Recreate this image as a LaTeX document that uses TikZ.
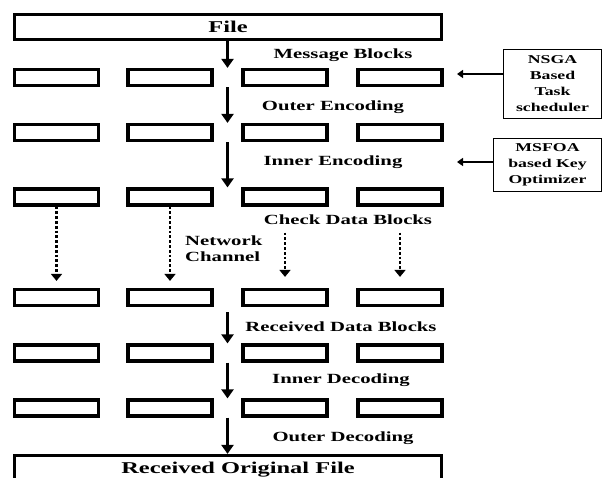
\documentclass[tikz,border=0pt]{standalone}
\usepackage{fontspec}
\setmainfont{Liberation Serif}[FakeStretch=1.48]
\usetikzlibrary{arrows.meta,calc}
\begin{document}
\begin{tikzpicture}[x=1pt,y=-1pt,
  blk/.style={draw,line width=3.2pt,minimum width=84pt,minimum height=16pt,inner sep=0pt},
  big/.style={draw,line width=3.2pt,minimum width=427pt,minimum height=25pt,inner sep=0pt,font=\bfseries\fontsize{16.5}{18}\selectfont},
  lbl/.style={font=\bfseries\fontsize{14}{16}\selectfont,inner sep=0pt},
  side/.style={draw,line width=1.8pt,align=center,inner sep=2pt,font=\bfseries\fontsize{12}{16}\selectfont},
  arr/.style={line width=2.7pt,-{Triangle[width=12pt,length=9pt]}},
  sarr/.style={line width=2pt,-{Triangle[width=8pt,length=6pt]}},
  darr/.style={line width=2.8pt,dash pattern=on 2.8pt off 2pt,-{Triangle[width=11pt,length=7pt]}}]
\useasboundingbox (0,0) rectangle (604,478);
\clip (0,0) rectangle (604,478);

\node[big] (file) at (228,27) {File};
\node[big,minimum height=30pt] (recv) at (228,470.5) {};
\node[font=\bfseries\fontsize{16.5}{18}\selectfont,inner sep=0pt] (recvt) at (238,470) {Received Original File};

\foreach \r/\y in {1/77.5,2/132.5,3/197,4/297.5,5/353,6/408}{
  \foreach \c/\x in {1/56.5,2/170,3/285,4/400}{
    \node[blk] (r\r c\c) at (\x,\y) {};
  }
  \coordinate (gt\r) at ($(r\r c2.north east)!.5!(r\r c3.north west)$);
  \coordinate (gb\r) at ($(r\r c2.south east)!.5!(r\r c3.south west)$);
}

% labels
\node[lbl] (lmsg) at (343,55) {Message Blocks};
\node[lbl] (lout) at (333,107) {Outer Encoding};
\node[lbl] (linn) at (333,162) {Inner Encoding};
\node[lbl] (lchk) at (348,220) {Check Data Blocks};
\node[lbl,align=left,anchor=west] (lnet) at (185,249) {Network\\Channel};
\node[lbl] (lrdb) at (341,327) {Received Data Blocks};
\node[lbl] (lidc) at (341,380) {Inner Decoding};
\node[lbl] (lodc) at (343,438) {Outer Decoding};

% side boxes
\node[side,minimum width=98pt,minimum height=69pt] (nsga) at (552.5,84) {NSGA\\Based\\Task\\scheduler};
\node[side,minimum width=108pt,minimum height=53pt] (msfoa) at (547.5,165) {MSFOA\\based Key\\Optimizer};
\coordinate (t1) at (457,74);
\coordinate (t2) at (457,162);
\draw[sarr] (nsga.west |- t1) -- (t1);
\draw[sarr] (msfoa.west |- t2) -- (t2);

% main arrows
\draw[arr] (file.south -| gt1) -- (gt1);
\draw[arr] (gb1) -- (gt2);
\draw[arr] (gb2) -- (gt3);
\draw[arr] ([yshift=-5pt]gb4) -- (gt5);
\draw[arr] (gb5) -- (gt6);
\draw[arr] (gb6) -- (recv.north -| gb6);

% dotted arrows
\draw[darr,shorten >=7pt] (r3c1.south) -- (r4c1.north);
\draw[darr,shorten >=7pt] (r3c2.south) -- (r4c2.north);
\draw[darr,shorten <=26pt,shorten >=11pt] (r3c3.south) -- (r4c3.north);
\draw[darr,shorten <=26pt,shorten >=11pt] (r3c4.south) -- (r4c4.north);
\end{tikzpicture}
\end{document}
